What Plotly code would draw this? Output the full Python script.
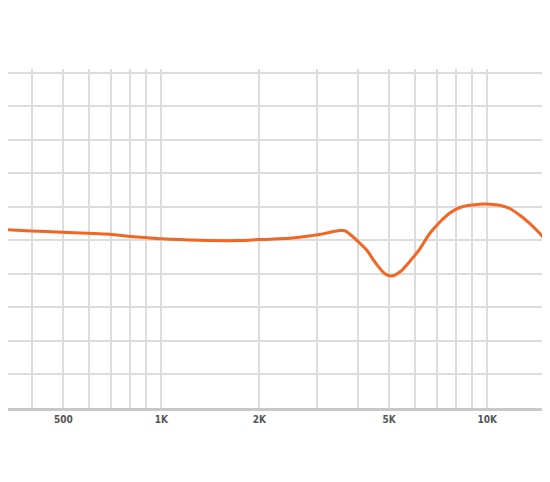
import plotly.graph_objects as go

# Frequency response (Hz) and level (dB, arbitrary reference)
freq_hz = [300, 319, 398, 495, 595, 695, 795, 896, 1000, 1313, 1741, 1992, 2480,
           2662, 2980, 3065, 3290, 3531, 3658, 3790, 4068, 4273, 4522, 4853, 5099,
           5396, 5791, 6215, 6671, 7158, 7683, 8245, 8849, 9497, 10193, 10940,
           11741, 12600, 13523, 14513, 15576, 16700]
level_db = [26.75, 26.65, 26.39, 26.20, 26.05, 25.90, 25.60, 25.40, 25.22, 25.00,
            24.96, 25.10, 25.30, 25.45, 25.79, 25.85, 26.20, 26.45, 26.42, 25.90,
            24.55, 23.50, 21.75, 20.01, 19.66, 20.25, 21.86, 23.73, 26.05, 27.74,
            29.09, 29.90, 30.24, 30.39, 30.39, 30.24, 29.75, 28.74, 27.50, 26.00,
            24.25, 22.30]

# Grid / tick positions and labels
grid_freqs = [300, 400, 500, 600, 700, 800, 900, 1000, 2000, 3000, 4000, 5000,
              6000, 7000, 8000, 9000, 10000, 20000]
grid_labels = ["", "", "500", "", "", "", "", "1K", "2K", "", "", "5K",
               "", "", "", "", "10K", ""]

fig = go.Figure()
fig.add_trace(go.Scatter(
    x=freq_hz, y=level_db, mode="lines",
    line=dict(color="#F26522", width=3, shape="spline", smoothing=0.8),
    hoverinfo="skip", showlegend=False,
))

fig.update_layout(
    width=542, height=466,
    margin=dict(l=0, r=0, t=61, b=66, pad=0),
    paper_bgcolor="white", plot_bgcolor="white",
    xaxis=dict(
        type="log",
        range=[2.5292, 4.1928],
        tickvals=grid_freqs, ticktext=grid_labels,
        showgrid=True, gridcolor="#dcdcdc", gridwidth=1.5,
        showline=True, linecolor="#c8c8c8", linewidth=3,
        ticks="", zeroline=False, automargin=False,
        tickfont=dict(family="DejaVu Sans Condensed, Liberation Sans Narrow, sans-serif",
                      size=10, color="#555555", weight="bold"),
    ),
    yaxis=dict(
        range=[-0.07, 50.6],
        tick0=0, dtick=5,
        showgrid=True, gridcolor="#dcdcdc", gridwidth=1.5,
        showticklabels=False, ticks="", zeroline=False, showline=False,
        automargin=False,
    ),
)

fig.write_html("out.html")
